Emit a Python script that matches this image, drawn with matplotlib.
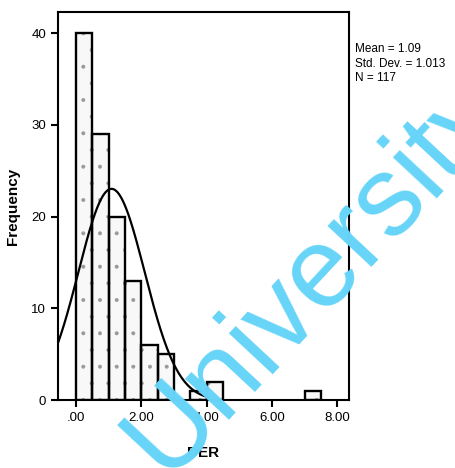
import matplotlib
matplotlib.use('Agg')
import matplotlib.pyplot as plt
import numpy as np

# histogram of DER, bin width 0.5
bin_left = [0.0, 0.5, 1.0, 1.5, 2.0, 2.5, 3.5, 4.0, 7.0]
counts = [40, 29, 20, 13, 6, 5, 1, 2, 1]
bin_width = 0.5
mean_der = 1.09
std_der = 1.013
n_obs = 117
x_ticks = [0, 2, 4, 6, 8]
x_labels = ['.00', '2.00', '4.00', '6.00', '8.00']
y_ticks = [0, 10, 20, 30, 40]

plt.rcParams['font.family'] = ['Liberation Sans', 'DejaVu Sans']
plt.rcParams['hatch.linewidth'] = 0.4

fig = plt.figure(figsize=(4.56, 4.68), dpi=100)
ax = fig.add_axes([0.127, 0.145, 0.638, 0.829])

# stipple fill first, then black outlines on top
ax.bar(bin_left, counts, width=bin_width, align='edge',
       facecolor='#f8f8f8', edgecolor='#999999', linewidth=0, hatch='.')
ax.bar(bin_left, counts, width=bin_width, align='edge',
       fill=False, edgecolor='black', linewidth=1.7)

# normal curve scaled to counts
xs = np.linspace(-0.55, 4.05, 200)
ys = n_obs * bin_width / (std_der * np.sqrt(2 * np.pi)) * np.exp(-0.5 * ((xs - mean_der) / std_der) ** 2)
ax.plot(xs, ys, color='black', linewidth=1.6)

ax.set_xlim(-0.55, 8.35)
ax.set_ylim(0, 42.3)
ax.set_xticks(x_ticks)
ax.set_xticklabels(x_labels)
ax.set_yticks(y_ticks)
ax.tick_params(direction='out', length=5, width=1.5, labelsize=9.5)
for s in ax.spines.values():
    s.set_linewidth(1.5)

ax.set_xlabel('DER', fontsize=11, fontweight='bold', labelpad=16)
ax.set_ylabel('Frequency', fontsize=11, fontweight='bold', labelpad=8)

fig.text(0.778, 0.908, 'Mean = 1.09\nStd. Dev. = 1.013\nN = 117',
         fontsize=8.5, va='top', ha='left', linespacing=1.3)

# watermark
fig.text(0.69, 0.41, 'University', fontsize=82, color='#66d4f8',
         rotation=47, ha='center', va='center', rotation_mode='anchor')

fig.savefig('out.png', dpi=100)
